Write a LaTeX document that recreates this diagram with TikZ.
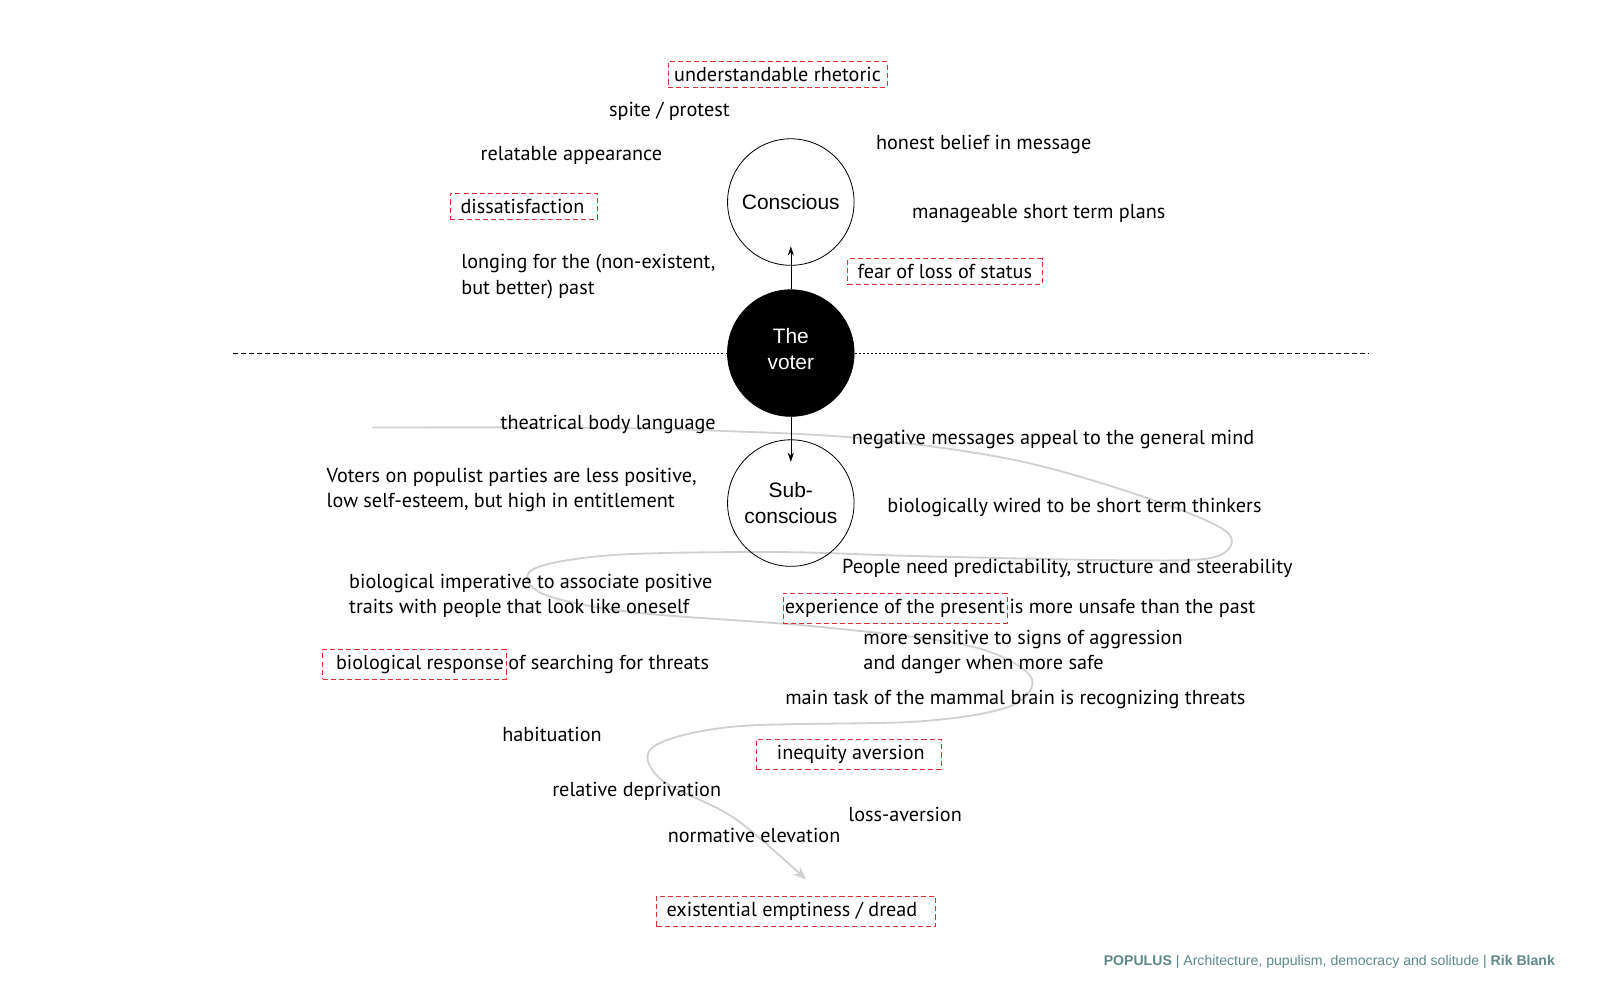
\documentclass[tikz,border=0pt]{standalone}
\usepackage{fontspec}
\setmainfont{PT Sans}
\newfontfamily\helv{Liberation Sans}
\usetikzlibrary{arrows.meta, positioning, calc}
\tikzstyle{arrow} = [semithick, ->, >={Stealth[length=9pt, width=6pt]}]
\definecolor{boxred}{RGB}{214,48,49}
\definecolor{footgray}{RGB}{96,136,138}
\definecolor{pathgray}{RGB}{208,208,208}

\begin{document}
\begin{tikzpicture}[x=1pt, y=-1pt,
    item/.style={font=\fontsize{19.8}{25}\selectfont, inner sep=0pt, align=left},
    redbox/.style={item, draw=boxred, semithick, dash pattern=on 5pt off 3pt, inner xsep=10pt, inner ysep=5.5pt},
    state/.style={circle, draw, thick, minimum size=124pt, inner sep=0pt, font=\helv\fontsize{20.5}{25}\selectfont, align=center},
]
\useasboundingbox (0,0) rectangle (1568,980);

% Gray path through the subconscious
\draw[pathgray, line width=1.8pt, -{Stealth[length=13pt, width=10pt]}] plot[smooth, tension=0.55] coordinates {
    (365,419) (560,419) (700,422) (850,430) (1000,452) (1130,490) (1203,522) (1190,546)
    (1100,549) (900,545) (760,541) (600,544) (522,558) (532,582) (620,600) (800,614)
    (950,633) (1010,663) (990,692) (900,707) (720,712) (640,732) (648,764) (720,802) (790,862)};

% Horizon line
\draw[dash pattern=on 5pt off 3pt] (228,346) -- (655,346);
\draw[dash pattern=on 5pt off 3pt] (885,346) -- (1342,346);

% The three states
\node[state] (cons) at (775,198) {Conscious};
\node[state, fill=black, text=white] (voter) at (775,346) {The\\voter\\[-17pt]};
\node[state] (sub) at (775,493) {Sub-\\conscious};
\draw[dash pattern=on 2pt off 2pt] (655,346) -- (voter.west);
\draw[dash pattern=on 2pt off 2pt] (voter.east) -- (885,346);
\draw[arrow, shorten >=-19pt] (voter) -- (cons);
\draw[arrow, shorten >=-22pt] (voter) -- (sub);

% Conscious side
\node[redbox, inner xsep=6pt] (rhetoric) at (762,73) {understandable rhetoric};
\node[item] (spite) at (656,109) {spite / protest};
\node[item] (appear) at (560,152) {relatable appearance};
\node[redbox, anchor=west] (dissat) at (441,202) {dissatisfaction\hspace{3pt}};
\node[item, anchor=west] (longing) at (452,271) {longing for the (non-existent,\\but better) past};
\node[item] (honest) at (964,142) {honest belief in message};
\node[item] (plans) at (1018,209) {manageable short term plans};
\node[redbox] (status) at (926,266) {fear of loss of status};

% Subconscious side
\node[item] (body) at (596,416) {theatrical body language};
\node[item] (negative) at (1032,431) {negative messages appeal to the general mind};
\node[item, anchor=west] (voters) at (320,480) {Voters on populist parties are less positive,\\low self-esteem, but high in entitlement};
\node[item] (wired) at (1053,497) {biologically wired to be short term thinkers};
\node[item] (predict) at (1046,557) {People need predictability, structure and steerability};
\node[item, anchor=west] (imperative) at (342,584) {biological imperative to associate positive\\traits with people that look like oneself};
\node[redbox, inner xsep=2pt] (present) at (877,596) {experience of the present};
\node[item, anchor=base west] (unsafe) at ($(present.base east)+(2,0)$) {is more unsafe than the past};
\node[item, anchor=west] (sensitive) at (846,639) {more sensitive to signs of aggression\\and danger when more safe};
\node[redbox, anchor=west, inner xsep=2pt] (response) at (316,651) {\hspace{11pt}biological response};
\node[item, anchor=base west] (threats) at ($(response.base east)+(2,0)$) {of searching for threats};
\node[item] (mammal) at (995,685) {main task of the mammal brain is recognizing threats};
\node[item] (habit) at (541,720) {habituation};
\node[redbox, anchor=west, inner xsep=16pt] (inequity) at (741,739) {\hspace{4pt}inequity aversion};
\node[item] (depriv) at (624,776) {relative deprivation};
\node[item] (loss) at (887,798) {loss-aversion};
\node[item] (elev) at (739,819) {normative elevation};
\node[redbox, anchor=west] (dread) at (643,893) {existential emptiness / dread\hspace{8pt}};

% Footer
\node[anchor=base east, inner sep=0pt, text=footgray, font=\helv\fontsize{13.8}{15}\selectfont] (footer) at (1524,946)
    {\textbf{POPULUS} | Architecture, pupulism, democracy and solitude | \textbf{Rik Blank}};

\end{tikzpicture}
\end{document}
